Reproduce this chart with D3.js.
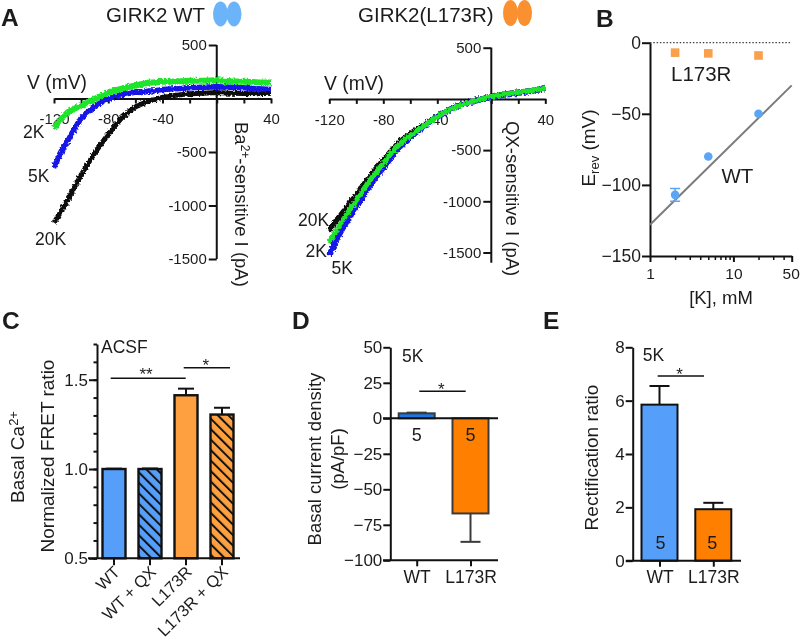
<!DOCTYPE html>
<html><head><meta charset="utf-8">
<script src="https://cdn.jsdelivr.net/npm/d3@7"></script>
<style>html,body{margin:0;background:#fff}svg{display:block;filter:blur(0.35px)}text{font-family:"Liberation Sans",Arial,sans-serif;fill:#1c1c1c}</style>
</head><body><svg id="c" width="800" height="643"></svg>
<script>
// Panel A, GIRK2 WT: voltage (mV) and current (pA)
const wtV20=[-120,-115,-110,-105,-100,-95,-90,-85,-80,-75,-70,-65,-60,-55,-50,-45,-40,-30,-20,-10,0,10,20,30,40];
const wtI20=[-1160,-1060,-950,-830,-715,-610,-510,-420,-335,-255,-180,-125,-80,-50,-25,-5,10,30,45,50,55,50,47,45,50];
const wtV5=[-120,-117,-115,-112,-110,-107,-105,-102,-100,-95,-90,-85,-80,-75,-70,-65,-60,-55,-50,-45,-40,-30,-20,-10,0,10,20,30,40];
const wtI5=[-650,-560,-510,-440,-400,-330,-285,-225,-185,-125,-80,-35,-5,20,38,45,60,55,70,72,85,90,100,105,110,105,100,90,85];
const wtV2=[-120,-117,-115,-110,-105,-100,-95,-90,-85,-80,-75,-70,-65,-60,-55,-50,-45,-40,-30,-20,-10,0,10,20,30,40];
const wtI2=[-280,-225,-195,-130,-95,-65,-35,-10,25,55,75,92,108,122,135,147,152,157,160,165,165,170,162,157,152,150];
// Panel A, GIRK2(L173R)
const muV=[-120,-115,-110,-105,-100,-95,-90,-85,-80,-75,-70,-65,-60,-55,-50,-45,-40,-35,-30,-25,-20,-15,-10,-5,0,10,20,30,40];
const muI20=[-1290,-1190,-1110,-1020,-940,-845,-760,-675,-600,-520,-450,-390,-340,-295,-255,-210,-170,-135,-100,-70,-45,-25,-8,8,25,46,65,80,100];
const muI5=[-1530,-1380,-1260,-1150,-1050,-945,-845,-755,-670,-585,-495,-430,-370,-320,-270,-215,-175,-135,-100,-70,-50,-30,-12,5,18,40,60,78,110];
const muI2=[-1400,-1290,-1185,-1085,-990,-890,-795,-710,-630,-545,-470,-405,-355,-310,-265,-215,-175,-135,-102,-72,-50,-28,-10,8,23,46,65,82,105];
// Panel B
const kConc=[2,5,20];
const eL173R=[-7,-7.5,-9];
const eWT=[-107,-80,-50];
const eWTerr=[4.5,0,0];
const fitK=[1,50];
const fitE=[-128,-30];
// Panel C
const cCats=["WT","WT + QX","L173R","L173R + QX"];
const cVals=[1.0,1.0,1.413,1.305];
const cErr=[0.002,0.003,0.037,0.038];
// Panel D
const dCats=["WT","L173R"];
const dVals=[3.5,-67];
const dErr=[0.5,-20];
const dN=["5","5"];
// Panel E
const eCats=["WT","L173R"];
const eVals=[5.85,1.93];
const eErr=[0.7,0.24];
const eN=["5","5"];

const BLUE="#559ffb",ORANGE="#ff8000",LORANGE="#ffa040",DOT="#5aa5f5",SQ="#f9a04c";
const svg=d3.select("#c");
const defs=svg.append("defs");
[["hBlue",BLUE],["hOrange",LORANGE]].forEach(([id,col])=>{
  const p=defs.append("pattern").attr("id",id).attr("patternUnits","userSpaceOnUse").attr("width",7.4).attr("height",7.4).attr("patternTransform","rotate(-45)");
  p.append("rect").attr("width",7.4).attr("height",7.4).attr("fill",col);
  p.append("rect").attr("x",0).attr("width",2).attr("height",7.4).attr("fill","#111");
});
const rough=defs.append("filter").attr("id","rough").attr("x","-10%").attr("y","-10%").attr("width","120%").attr("height","120%").attr("filterUnits","objectBoundingBox");
rough.append("feTurbulence").attr("type","fractalNoise").attr("baseFrequency",0.45).attr("numOctaves",2).attr("seed",3).attr("result","n");
rough.append("feDisplacementMap").attr("in","SourceGraphic").attr("in2","n").attr("scale",4.5).attr("xChannelSelector","R").attr("yChannelSelector","G");
function T(x,y,s,size,opt={}){
  const t=svg.append("text").attr("x",x).attr("y",y).attr("font-size",size).text(s);
  if(opt.anchor)t.attr("text-anchor",opt.anchor);
  if(opt.weight)t.attr("font-weight",opt.weight);
  if(opt.rot!==undefined)t.attr("transform",`rotate(${opt.rot} ${x} ${y})`);
  return t;
}
function style(g,fs,w=2){
  g.selectAll("path.domain").attr("stroke","#111").attr("stroke-width",w).attr("fill","none");
  g.selectAll(".tick line").attr("stroke","#111").attr("stroke-width",w);
  g.selectAll("text").attr("font-size",fs).attr("font-family",'"Liberation Sans",Arial,sans-serif').attr("fill","#1c1c1c");
  return g;
}
// panel A
function ivPanel(o){
  const x=d3.scaleLinear().domain([-120,40]).range(o.xr);
  const y=d3.scaleLinear().domain([500,-1500]).range(o.yr);
  const gy=svg.append("g").attr("transform",`translate(${x(0)},0)`)
    .call(d3.axisLeft(y).tickValues([500,0,-500,-1000,-1500]).tickSize(8).tickSizeOuter(0).tickPadding(2).tickFormat(d=>d===0?"":d));
  style(gy,15);
  gy.select("path.domain").attr("d",`M0,${y(500)}V${y(o.yEnd)}`);
  const gx=svg.append("g").attr("transform",`translate(0,${y(0)})`)
    .call(d3.axisBottom(x).tickValues(d3.range(-120,41,20)).tickSize(5).tickSizeOuter(0).tickPadding(10).tickFormat(d=>[-120,-80,-40,40].includes(d)?d:""));
  style(gx,15);
  const line=d3.line().x(d=>x(d[0])).y(d=>y(d[1]));
  o.traces.forEach(t=>{
    svg.append("path").datum(t.v.map((v,i)=>[v,t.i[i]])).attr("d",line).attr("fill","none")
      .attr("stroke",t.c).attr("stroke-width",t.w).attr("stroke-linejoin","round").attr("filter","url(#rough)");
  });
}
ivPanel({xr:[54,271],yr:[45,259],yEnd:-1500,traces:[
  {v:wtV20,i:wtI20,c:"#0a0a0a",w:5},{v:wtV5,i:wtI5,c:"#1414e6",w:5.5},{v:wtV2,i:wtI2,c:"#1fe52a",w:6}]});
ivPanel({xr:[329.3,545.3],yr:[47.7,252.5],yEnd:-1600,traces:[
  {v:muV,i:muI20,c:"#0a0a0a",w:5.5},{v:muV,i:muI5,c:"#1414e6",w:6},{v:muV,i:muI2,c:"#1fe52a",w:5}]});
T(1,26,"A",24.5,{weight:"bold"});
T(106,21.7,"GIRK2 WT",20.5);
T(358,21.7,"GIRK2(L173R)",20.5);
[[220.5,14,7.5,12.5,"#6cb4fa"],[234,14,7.5,12.5,"#6cb4fa"],[510.5,13,7.5,13,"#fb9030"],[524.5,13,7.5,13,"#fb9030"]].forEach(e=>
  svg.append("ellipse").attr("cx",e[0]).attr("cy",e[1]).attr("rx",e[2]).attr("ry",e[3]).attr("fill",e[4]));
T(27,89,"V (mV)",19.3);T(324,90,"V (mV)",19.3);
T(23,138,"2K",17.5);T(28,181.5,"5K",17.5);T(35,245,"20K",17.5);
T(298,226,"20K",17.5);T(305.5,256.5,"2K",17.5);T(331.5,274,"5K",17.5);
const ba=T(235,122,"Ba",18.5,{rot:90});
ba.append("tspan").attr("dy",-6).attr("font-size",12).text("2+");
ba.append("tspan").attr("dy",6).text("-sensitive I (pA)");
T(506,121,"QX-sensitive I (pA)",18.5,{rot:90});
// panel B
{
  const x=d3.scaleLog().domain([1,50]).range([650,791.7]);
  const y=d3.scaleLinear().domain([0,-150]).range([42.7,256]);
  svg.append("line").attr("x1",x(1)).attr("x2",x(50)).attr("y1",y(0)).attr("y2",y(0)).attr("stroke","#444").attr("stroke-width",1.3).attr("stroke-dasharray","1.5 1.8");
  const gy=svg.append("g").attr("transform",`translate(${x(1)},0)`).call(d3.axisLeft(y).tickValues([0,-50,-100,-150]).tickSize(8).tickSizeOuter(0).tickPadding(1));
  style(gy,17.5);
  const minor=[2,3,4,5,6,7,8,9,20,30,40];
  const gm=svg.append("g").attr("transform",`translate(0,${y(-150)})`).call(d3.axisBottom(x).tickValues(minor).tickSize(4).tickSizeOuter(0).tickFormat(""));
  style(gm,16,1.5);gm.select("path.domain").remove();
  const gx=svg.append("g").attr("transform",`translate(0,${y(-150)})`).call(d3.axisBottom(x).tickValues([1,10,50]).tickSize(6).tickSizeOuter(0).tickPadding(6).tickFormat(d3.format("d")));
  style(gx,15.5);
  gx.selectAll(".tick text").attr("dx",d=>d===50?-1:0);
  svg.append("line").attr("x1",x(fitK[0])).attr("x2",x(fitK[1])).attr("y1",y(fitE[0])).attr("y2",y(fitE[1])).attr("stroke","#7b7b7b").attr("stroke-width",2);
  kConc.forEach((k,i)=>{
    if(eWTerr[i]>0){
      const p=d3.path();
      p.moveTo(x(k),y(eWT[i]-eWTerr[i]));p.lineTo(x(k),y(eWT[i]+eWTerr[i]));
      [eWT[i]-eWTerr[i],eWT[i]+eWTerr[i]].forEach(v=>{p.moveTo(x(k)-5,y(v));p.lineTo(x(k)+5,y(v));});
      svg.append("path").attr("d",p).attr("stroke",DOT).attr("stroke-width",1.6).attr("fill","none");
    }
    svg.append("circle").attr("cx",x(k)).attr("cy",y(eWT[i])).attr("r",4.3).attr("fill",DOT);
    svg.append("rect").attr("x",x(k)-4.3).attr("y",y(eL173R[i])-4.3).attr("width",8.6).attr("height",8.6).attr("fill",SQ);
  });
  T(596,27,"B",24.5,{weight:"bold"});
  T(671,81,"L173R",20.5);T(721.5,183,"WT",20.5);
  const lab=T(595,148,"E",19,{rot:-90,anchor:"middle"});
  lab.append("tspan").attr("dy",4).attr("font-size",13).text("rev");
  lab.append("tspan").attr("dy",-4).text(" (mV)");
  T(721,304,"[K], mM",18.5,{anchor:"middle"});
}
// bars helper
function bars(o){
  const g=svg.append("g");
  o.vals.forEach((v,i)=>{
    const cx=o.x(o.cats[i]);
    const top=o.y(Math.max(v,o.base)),bot=o.y(Math.min(v,o.base));
    const ev=o.y(v+o.errs[i]),ey=o.y(v);
    g.append("line").attr("x1",cx).attr("x2",cx).attr("y1",ey).attr("y2",ev).attr("stroke",o.ec).attr("stroke-width",2);
    g.append("line").attr("x1",cx-o.cap).attr("x2",cx+o.cap).attr("y1",ev).attr("y2",ev).attr("stroke",o.ec).attr("stroke-width",2);
    g.append("rect").attr("x",cx-o.bw/2).attr("width",o.bw).attr("y",top).attr("height",bot-top)
      .attr("fill",o.fills[i]).attr("stroke",o.ec).attr("stroke-width",o.sw||2);
  });
}
function sig(x1,x2,y,starX,starY,s){
  svg.append("line").attr("x1",x1).attr("x2",x2).attr("y1",y).attr("y2",y).attr("stroke","#111").attr("stroke-width",1.5);
  T(starX,starY,s,17,{anchor:"middle"});
}
// panel C
{
  const y=d3.scaleLinear().domain([0.5,1.7]).range([558.3,344]);
  const x=d3.scaleBand().domain(cCats).range([96,240]);
  bars({cats:cCats,vals:cVals,errs:cErr,base:0.5,x:c=>x(c)+x.bandwidth()/2,y,bw:23,cap:8,sw:2.4,ec:"#111",fills:[BLUE,"url(#hBlue)",LORANGE,"url(#hOrange)"]});
  const gy=svg.append("g").attr("transform","translate(97,0)").call(d3.axisLeft(y).tickValues(d3.range(0.5,1.71,0.1)).tickSize(3.5).tickSizeOuter(0).tickFormat(""));
  style(gy,17);
  const gy2=svg.append("g").attr("transform","translate(97,0)").call(d3.axisLeft(y).tickValues([0.5,1.0,1.5]).tickSize(8).tickSizeOuter(0).tickPadding(1).tickFormat(d3.format(".1f")));
  style(gy2,17);gy2.select("path.domain").remove();
  const gx=svg.append("g").attr("transform",`translate(0,${y(0.5)})`).call(d3.axisBottom(x).tickSize(7).tickSizeOuter(0).tickFormat(""));
  style(gx,17);
  gx.select("path.domain").attr("d","M88,0H240");
  cCats.forEach(c=>{
    const cx=x(c)+x.bandwidth()/2;
    T(cx+7,573,c,16.5,{anchor:"end",rot:-45});
  });
  T(2,329,"C",24.5,{weight:"bold"});
  T(101,353,"ACSF",17.5);
  sig(110.7,185.7,378.3,146,379.5,"**");
  sig(183.7,230,367.7,205.7,371,"*");
  const b=T(24,457,"Basal Ca",19,{rot:-90,anchor:"middle"});
  b.append("tspan").attr("dy",-6).attr("font-size",13).text("2+");
  T(54,456,"Normalized FRET ratio",19,{rot:-90,anchor:"middle"});
}
// panel D
{
  const y=d3.scaleLinear().domain([50,-100]).range([347.3,560.3]);
  const x=d3.scalePoint().domain(dCats).range([416.7,470.5]);
  bars({cats:dCats,vals:dVals,errs:dErr,base:0,x,y,bw:36,cap:10,ec:"#3a3a3a",fills:["#1a78e6",ORANGE]});
  const gy=svg.append("g").attr("transform","translate(390.3,0)").call(d3.axisLeft(y).tickValues([50,25,0,-25,-50,-75,-100]).tickSize(7).tickSizeOuter(0).tickPadding(1));
  style(gy,17);
  const gx=svg.append("g").attr("transform",`translate(0,${y(-100)})`).call(d3.axisBottom(x).tickSize(6).tickSizeOuter(0).tickPadding(4));
  style(gx,17.5);gx.select("path.domain").attr("d","M383,0H498");
  svg.append("line").attr("x1",383).attr("x2",498).attr("y1",y(0)).attr("y2",y(0)).attr("stroke","#111").attr("stroke-width",2);
  T(292,329,"D",24.5,{weight:"bold"});
  T(402,362,"5K",17.5);
  dN.forEach((n,i)=>T(x(dCats[i]),440.5,n,18,{anchor:"middle"}));
  sig(419.3,465.7,391.3,441.3,394.5,"*");
  T(320.5,459,"Basal current density",18.5,{rot:-90,anchor:"middle"});
  T(344,459,"(pA/pF)",18.5,{rot:-90,anchor:"middle"});
}
// panel E
{
  const y=d3.scaleLinear().domain([0,8]).range([560.7,347.3]);
  const x=d3.scalePoint().domain(eCats).range([659.5,713.3]);
  bars({cats:eCats,vals:eVals,errs:eErr,base:0,x,y,bw:36,cap:10,ec:"#111",fills:[BLUE,ORANGE]});
  const gy=svg.append("g").attr("transform","translate(632.7,0)").call(d3.axisLeft(y).tickValues([0,2,4,6,8]).tickSize(7).tickSizeOuter(0).tickPadding(1));
  style(gy,17);
  const gx=svg.append("g").attr("transform",`translate(0,${y(0)})`).call(d3.axisBottom(x).tickSize(6).tickSizeOuter(0).tickPadding(4));
  style(gx,17.5);gx.select("path.domain").attr("d","M626,0H741");
  T(543,329,"E",24.5,{weight:"bold"});
  T(642.7,361,"5K",17.5);
  eN.forEach((n,i)=>T(x(eCats[i])+[1,-1][i],549,n,18,{anchor:"middle"}));
  sig(657.7,704,376,679.5,379.5,"*");
  T(598,457.5,"Rectification ratio",19,{rot:-90,anchor:"middle"});
}
</script></body></html>
